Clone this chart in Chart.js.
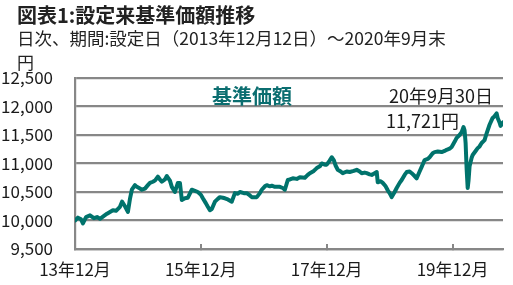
<!DOCTYPE html>
<html><head><meta charset="utf-8">
<script src="https://cdn.jsdelivr.net/npm/chart.js@4"></script>
<style>
html,body{margin:0;padding:0;background:#fff;}
#wrap{position:relative;width:513px;height:285px;overflow:hidden;font-family:"Noto Sans CJK JP","Noto Sans",sans-serif;}
#wrap canvas{position:absolute;left:0;top:0;}
.t{position:absolute;white-space:nowrap;line-height:1;}
</style></head><body>
<div id="wrap">
<canvas id="c" width="513" height="285"></canvas>
<div class="t" id="title" style="left:17px;top:5px;font-size:20px;font-weight:bold;color:#222;">図表1:設定来基準価額推移</div>
<div class="t" id="sub" style="left:17px;top:29px;font-size:17.5px;color:#222;">日次、期間:設定日（2013年12月12日）〜2020年9月末</div>
<div class="t" id="unit" style="left:17px;top:53px;font-size:17px;color:#222;">円</div>
<div class="t" id="lbl" style="left:212px;top:86px;font-size:20px;font-weight:bold;color:#0b6e70;">基準価額</div>
<div class="t" id="dt" style="left:389px;top:86px;font-size:18px;color:#1a1a1a;">20年9月30日</div>
<div class="t" id="val" style="left:386px;top:111px;font-size:18px;color:#1a1a1a;">11,721円</div>
</div>
<script>
const dates = ["2013-12-12","2013-12-29","2014-01-16","2014-01-27","2014-02-14","2014-03-09","2014-04-01","2014-04-19","2014-05-06","2014-05-29","2014-06-16","2014-07-03","2014-07-20","2014-08-07","2014-08-30","2014-09-11","2014-09-28","2014-10-15","2014-10-27","2014-11-07","2014-11-25","2014-12-06","2014-12-24","2015-01-04","2015-01-22","2015-02-08","2015-02-20","2015-03-09","2015-03-21","2015-04-07","2015-04-19","2015-04-30","2015-05-18","2015-05-29","2015-06-16","2015-06-27","2015-07-15","2015-08-01","2015-08-13","2015-08-24","2015-09-11","2015-09-28","2015-10-21","2015-11-08","2015-11-25","2015-12-13","2015-12-24","2016-01-11","2016-01-22","2016-02-03","2016-02-14","2016-03-03","2016-03-20","2016-04-01","2016-04-18","2016-04-30","2016-05-17","2016-06-09","2016-06-27","2016-07-14","2016-07-26","2016-08-18","2016-09-04","2016-09-22","2016-10-03","2016-11-01","2016-11-19","2016-11-30","2016-12-18","2016-12-29","2017-01-16","2017-01-27","2017-02-14","2017-03-03","2017-03-15","2017-04-01","2017-04-13","2017-04-30","2017-05-12","2017-05-29","2017-06-21","2017-07-09","2017-08-07","2017-08-24","2017-09-05","2017-09-28","2017-10-15","2017-11-02","2017-11-13","2017-12-01","2017-12-12","2017-12-29","2018-01-10","2018-01-22","2018-02-02","2018-02-14","2018-03-03","2018-03-15","2018-04-07","2018-04-24","2018-05-18","2018-06-04","2018-06-21","2018-07-03","2018-07-20","2018-08-01","2018-08-18","2018-08-30","2018-09-16","2018-09-28","2018-10-04","2018-10-21","2018-11-02","2018-11-19","2018-12-01","2018-12-12","2018-12-24","2019-01-10","2019-01-22","2019-02-08","2019-02-20","2019-03-09","2019-03-21","2019-04-07","2019-04-19","2019-05-06","2019-05-18","2019-06-04","2019-06-16","2019-07-03","2019-07-21","2019-08-01","2019-08-19","2019-08-30","2019-09-17","2019-10-10","2019-10-27","2019-11-08","2019-11-25","2019-12-07","2019-12-24","2020-01-05","2020-01-22","2020-02-03","2020-02-14","2020-02-20","2020-02-26","2020-03-03","2020-03-09","2020-03-14","2020-03-20","2020-04-01","2020-04-07","2020-04-24","2020-05-06","2020-05-17","2020-05-29","2020-06-15","2020-06-27","2020-07-14","2020-07-26","2020-08-01","2020-08-12","2020-08-24","2020-08-30","2020-09-10","2020-09-16","2020-09-30"];
const navValues = [10000,10050,10020,9950,10060,10090,10040,10060,10030,10080,10120,10150,10180,10170,10240,10330,10250,10150,10380,10540,10620,10590,10560,10540,10560,10620,10660,10680,10700,10770,10720,10680,10720,10780,10700,10590,10500,10660,10660,10360,10390,10400,10540,10520,10500,10450,10390,10300,10240,10180,10200,10330,10380,10410,10400,10390,10370,10330,10480,10470,10500,10480,10480,10440,10410,10410,10480,10540,10600,10620,10600,10610,10590,10590,10590,10570,10540,10710,10720,10740,10730,10760,10750,10800,10830,10870,10920,10950,11000,10980,10980,11050,11110,11060,10960,10890,10860,10830,10860,10850,10870,10890,10860,10830,10840,10830,10810,10800,10830,10850,10670,10690,10660,10600,10530,10480,10410,10500,10570,10660,10710,10800,10850,10860,10830,10780,10740,10860,10940,11060,11080,11110,11180,11200,11210,11200,11220,11240,11260,11290,11380,11450,11500,11550,11640,11580,11360,10900,10570,10700,10950,11100,11150,11220,11270,11300,11360,11410,11530,11680,11760,11800,11830,11880,11800,11720,11660,11721];
const tickDates = ["2013-12-12","2015-12-12","2017-12-12","2019-12-12"];
const tickLabels = ["13年12月","15年12月","17年12月","19年12月"];
const yTicks = [9500,10000,10500,11000,11500,12000,12500];

const DAY = 86400000;
const t0 = Date.parse(dates[0]);
const off = d => (Date.parse(d) - t0) / DAY;
const points = dates.map((d,i)=>({x: off(d), y: navValues[i]}));
const tickOffs = tickDates.map(off);

const FONT = {family:'"Noto Sans CJK JP","Noto Sans",sans-serif', size:17};
const GRID = '#878787';

new Chart(document.getElementById('c'), {
  type:'line',
  data:{datasets:[{data:points, borderColor:'#00736c', borderWidth:4, pointRadius:0, tension:0, borderJoinStyle:'round', borderCapStyle:'round', fill:false}]},
  options:{
    responsive:false, animation:false, events:[],
    layout:{padding:{left:0,right:10,top:78,bottom:0}},
    plugins:{legend:{display:false}, tooltip:{enabled:false}, title:{display:false}},
    scales:{
      x:{type:'linear', min:0, max:off(dates[dates.length-1]),
        afterBuildTicks:s=>{s.ticks = tickOffs.map(v=>({value:v}));},
        afterFit:s=>{s.height = 36;},
        ticks:{autoSkip:false, maxRotation:0, padding:15, color:'#1a1a1a', font:FONT,
          callback:(v,i)=>tickLabels[i]},
        grid:{drawOnChartArea:false, drawTicks:true, tickLength:-5, color:GRID, lineWidth:2},
        border:{display:true, color:GRID, width:2.2}
      },
      y:{min:yTicks[0], max:yTicks[yTicks.length-1],
        afterBuildTicks:s=>{s.ticks = yTicks.map(v=>({value:v}));},
        afterFit:s=>{s.width = 75;},
        ticks:{padding:22, color:'#1a1a1a', font:FONT, callback:v=>v.toLocaleString('en-US')},
        grid:{drawTicks:false, color:GRID, lineWidth:2.2},
        border:{display:true, color:GRID, width:2.2}
      }
    }
  }
});
</script>
</body></html>
